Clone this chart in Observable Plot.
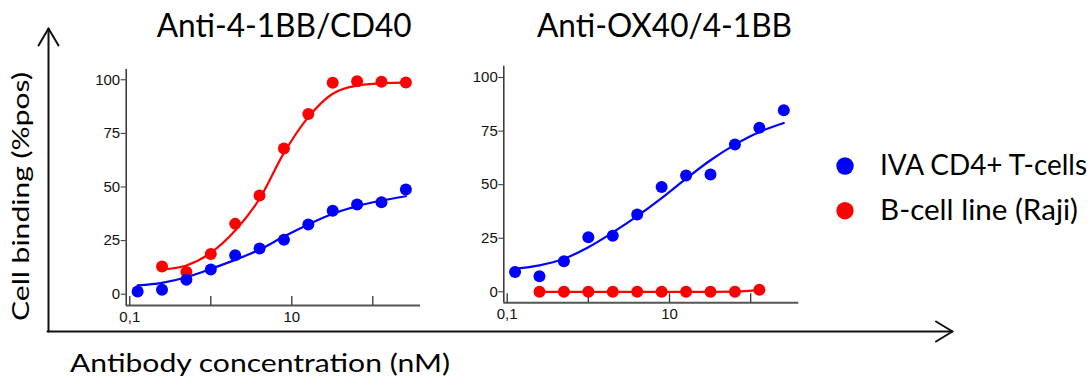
<!DOCTYPE html>
<html>
<head>
<meta charset="utf-8">
<script src="https://cdn.jsdelivr.net/npm/d3@7"></script>
<script src="https://cdn.jsdelivr.net/npm/@observablehq/plot@0.6"></script>
<style>
  html, body { margin: 0; padding: 0; background: #fff; }
  #wrap { position: relative; width: 1090px; height: 379px; overflow: hidden; background: #fff; }
  #wrap > svg { position: absolute; top: 0; }
</style>
</head>
<body>
<div id="wrap"></div>
<script>
// ---------- data ----------
const panelTitles = ["Anti-4-1BB/CD40", "Anti-OX40/4-1BB"];
const seriesNames = ["IVA CD4+ T-cells", "B-cell line (Raji)"];
const seriesColors = ["#0000ff", "#ff0000"];

// antibody concentrations (nM), two-fold dilution series
const concAll   = [0.125, 0.25, 0.5, 1, 2, 4, 8, 16, 32, 64, 128, 256];
const concFrom025 = [0.25, 0.5, 1, 2, 4, 8, 16, 32, 64, 128, 256];
const concTo128   = [0.25, 0.5, 1, 2, 4, 8, 16, 32, 64, 128];

// Panel 1: Anti-4-1BB/CD40 (% positive)
const p1Tcells    = [1.3, 2.1, 6.7, 11.5, 18.2, 21.3, 25.4, 32.5, 38.9, 41.8, 42.9, 48.8];
const p1Raji      = [12.9, 10.3, 18.8, 32.8, 46.0, 68.0, 84.1, 98.6, 99.3, 99.1, 98.7];
const p1TcellsFit = [4.1, 5.3, 7.9, 11.8, 16.0, 20.8, 26.9, 32.5, 37.5, 41.1, 43.7, 45.7];
const p1RajiFit   = [11.5, 13.4, 19.3, 29.7, 44.5, 65.9, 82.6, 93.5, 97.3, 98.4, 98.7];

// Panel 2: Anti-OX40/4-1BB (% positive)
const p2Tcells    = [9.2, 7.3, 14.2, 25.5, 26.2, 36.1, 48.9, 54.3, 54.7, 68.8, 76.6, 84.7];
const p2Raji      = [0, 0, 0, 0, 0, 0, 0, 0, 0, 0.9];
const p2TcellsFit = [10.7, 12.3, 15.4, 20.8, 27.7, 35.3, 43.7, 52.8, 61.4, 68.7, 74.6, 78.8];
const p2RajiFit   = [0, 0, 0, 0, 0, 0, 0, 0, 0.1, 0.9];

// axis ticks
const yTicks = [0, 25, 50, 75, 100];
const xTicks = [0.1, 1, 10, 100];
const xTickLabels = ["0,1", "", "10", ""];

// ---------- helpers ----------
function rows(xs, ys, s) { return xs.map((x, i) => ({x, y: ys[i], s})); }

const panels = [
  {
    points: [...rows(concFrom025, p1Raji, seriesNames[1]), ...rows(concAll, p1Tcells, seriesNames[0])],
    fitsRaji: rows(concFrom025, p1RajiFit, seriesNames[1]),
    fitsT: rows(concAll, p1TcellsFit, seriesNames[0]),
    layout: {left: 0, width: 440, marginLeft: 125.7, marginRight: 20, marginTop: 69, marginBottom: 74,
             xDomain: [0.0903, 388], yDomain: [-5.27, 104.8]}
  },
  {
    points: [...rows(concTo128, p2Raji, seriesNames[1]), ...rows(concAll, p2Tcells, seriesNames[0])],
    fitsRaji: rows(concTo128, p2RajiFit, seriesNames[1]),
    fitsT: rows(concAll, p2TcellsFit, seriesNames[0]),
    layout: {left: 440, width: 380, marginLeft: 63.3, marginRight: 21.7, marginTop: 65.7, marginBottom: 76.7,
             xDomain: [0.0908, 392], yDomain: [-5.14, 105.3]}
  }
];

const wrap = document.getElementById("wrap");

// ---------- decoration layer (outer arrows, titles, axis labels, legend) ----------
const W = 1090, H = 379;
const deco = d3.create("svg").attr("width", W).attr("height", H).style("left", "0px");
const arrowStroke = {stroke: "#111", "stroke-width": 2, fill: "none", "stroke-linecap": "round", "stroke-linejoin": "round"};
function path(d) { const p = deco.append("path").attr("d", d); for (const k in arrowStroke) p.attr(k, arrowStroke[k]); }
path("M48.5,331.5 L48.5,28.5");
path("M38.5,45.5 L48.5,28.5 L58.5,45.5");
path("M47.5,331.5 L952.5,331.5");
path("M936,321.5 L952.5,331.5 L936,341.5");

const font = "Lato, 'Open Sans', sans-serif";
function label(x, y, text, size, len, transform) {
  const t = deco.append("text")
    .attr("x", x).attr("y", y)
    .attr("font-family", font).attr("font-size", size)
    .attr("fill", "#000")
    .attr("textLength", len).attr("lengthAdjust", "spacingAndGlyphs")
    .text(text);
  if (transform) t.attr("transform", transform);
  return t;
}
label(156.7, 36.7, panelTitles[0], 32.5, 255);
label(537, 36.7, panelTitles[1], 32.5, 255);
label(0, 0, "Cell binding (%pos)", 23.5, 249, "translate(28.5,321) rotate(-90)");
label(70, 371.7, "Antibody concentration (nM)", 24.5, 380);

// legend
const legendY = [166, 210.7];
seriesNames.forEach((name, i) => {
  deco.append("circle").attr("cx", 845).attr("cy", legendY[i]).attr("r", 8.7).attr("fill", seriesColors[i]);
  label(880, legendY[i] + 9.3, name, 28, i === 0 ? 207 : 198);
});
wrap.appendChild(deco.node());

// ---------- panels with Observable Plot ----------
const tickFont = "'Liberation Sans', Arial, sans-serif";
panels.forEach(p => {
  const L = p.layout;
  const y0 = L.yDomain[0];
  const pxPerUnit = (H - L.marginTop - L.marginBottom) / (L.yDomain[1] - L.yDomain[0]);
  const chart = Plot.plot({
    width: L.width,
    height: H,
    marginLeft: L.marginLeft,
    marginRight: L.marginRight,
    marginTop: L.marginTop,
    marginBottom: L.marginBottom,
    style: {fontFamily: tickFont, fontSize: "15px", color: "#000", background: "transparent", overflow: "visible"},
    x: {type: "log", domain: L.xDomain},
    y: {domain: L.yDomain},
    color: {domain: seriesNames, range: seriesColors},
    marks: [
      Plot.ruleY([y0], {stroke: "#555", strokeWidth: 2}),
      Plot.ruleX([L.xDomain[0]], {stroke: "#333", strokeWidth: 1.5}),
      Plot.ruleX(xTicks, {x: d => d, y1: y0, y2: y0 + 9 / pxPerUnit, stroke: "#333", strokeWidth: 1.3}),
      Plot.axisX(xTicks, {tickSize: 0, tickPadding: 6, label: null, fontSize: 15, fontFamily: tickFont,
                          tickFormat: d => xTickLabels[xTicks.indexOf(d)], fill: "#111"}),
      Plot.axisY(yTicks, {tickSize: 5, tickPadding: 1, label: null, fontSize: 15, fontFamily: tickFont,
                          stroke: "#333", fill: "#111"}),
      Plot.line(p.fitsRaji, {x: "x", y: "y", stroke: "s", strokeWidth: 2.2, curve: "monotone-x"}),
      Plot.line(p.fitsT, {x: "x", y: "y", stroke: "s", strokeWidth: 2.2, curve: "monotone-x"}),
      Plot.dot(p.points, {x: "x", y: "y", fill: "s", r: 6})
    ]
  });
  chart.style.left = L.left + "px";
  wrap.appendChild(chart);
});
</script>
</body>
</html>
